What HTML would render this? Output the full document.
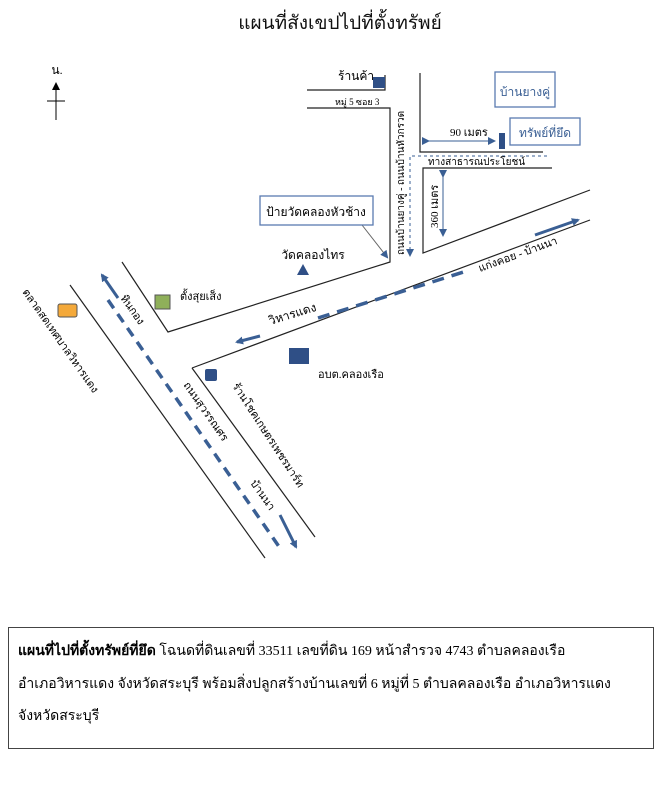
<!DOCTYPE html>
<html><head><meta charset="utf-8"><style>
html,body{margin:0;padding:0;background:#fff;}
svg{display:block;font-family:"Liberation Serif","DejaVu Serif",serif;}
</style></head><body>
<svg width="667" height="800" viewBox="0 0 667 800" xmlns="http://www.w3.org/2000/svg">
<defs>
<marker id="ab" markerWidth="8" markerHeight="8" refX="6" refY="4" orient="auto" markerUnits="userSpaceOnUse"><path d="M0,0 L8,4 L0,8 z" fill="#3a5f94"/></marker>
<marker id="ak" markerWidth="8" markerHeight="8" refX="6" refY="4" orient="auto" markerUnits="userSpaceOnUse"><path d="M0,0 L8,4 L0,8 z" fill="#000"/></marker>
</defs>
<text x="340" y="29" font-size="19" text-anchor="middle" fill="#111">แผนที่สังเขปไปที่ตั้งทรัพย์</text>
<!-- north -->
<text x="57" y="74" font-size="12" text-anchor="middle">น.</text>
<line x1="56" y1="120" x2="56" y2="84" stroke="#000" stroke-width="1" marker-end="url(#ak)"/>
<line x1="47" y1="101" x2="65" y2="101" stroke="#000"/>
<g stroke="#222" stroke-width="1.2" fill="none">
<polyline points="307,90 385,90 385,75"/>
<polyline points="307,108 390,108 390,262 168,332 122,262"/>
<polyline points="420,73 420,152 543,152"/>
<polyline points="552,168 423,168 423,253 590,190"/>
<line x1="192" y1="368" x2="590" y2="220"/>
<line x1="192" y1="368" x2="315" y2="537"/>
<line x1="70" y1="285" x2="265" y2="558"/>
</g>
<!-- dashed guide -->
<polyline points="547,156 410,156 410,255" stroke="#3a5f94" stroke-width="1" stroke-dasharray="3,3" fill="none" marker-end="url(#ab)"/>
<!-- thick dashes -->
<line x1="108" y1="300" x2="280" y2="548" stroke="#3a5f94" stroke-width="3.5" stroke-dasharray="10,7"/>
<line x1="118" y1="298" x2="102" y2="275" stroke="#3a5f94" stroke-width="3" marker-end="url(#ab)"/>
<line x1="280" y1="515" x2="296" y2="547" stroke="#3a5f94" stroke-width="3" marker-end="url(#ab)"/>
<line x1="260" y1="336" x2="237" y2="342" stroke="#3a5f94" stroke-width="3" marker-end="url(#ab)"/>
<line x1="318" y1="318" x2="470" y2="270" stroke="#3a5f94" stroke-width="3.5" stroke-dasharray="12,8"/>
<line x1="535" y1="235" x2="578" y2="220" stroke="#3a5f94" stroke-width="3" marker-end="url(#ab)"/>
<!-- arrows measure -->
<line x1="428" y1="141" x2="494" y2="141" stroke="#3a5f94" marker-end="url(#ab)" marker-start="url(#ab)"/>
<line x1="443" y1="176" x2="443" y2="235" stroke="#3a5f94" marker-end="url(#ab)" marker-start="url(#ab)"/>
<line x1="362" y1="225" x2="387" y2="257" stroke="#666" marker-end="url(#ab)"/>
<!-- boxes -->
<g fill="none" stroke="#5a7bb0" stroke-width="1.3">
<rect x="495" y="72" width="60" height="35"/>
<rect x="510" y="118" width="70" height="27"/>
<rect x="260" y="196" width="113" height="29"/>
</g>
<text x="525" y="96" font-size="12" fill="#3a5f94" text-anchor="middle">บ้านยางคู่</text>
<text x="545" y="137" font-size="12" fill="#3a5f94" text-anchor="middle">ทรัพย์ที่ยึด</text>
<text x="316" y="216" font-size="12" text-anchor="middle">ป้ายวัดคลองหัวช้าง</text>
<!-- markers -->
<rect x="373" y="77" width="12" height="11" fill="#2f4f86"/>
<rect x="499" y="133" width="6" height="16" fill="#2f4f86"/>
<path d="M297,275 L303,264 L309,275 z" fill="#2f4f86"/>
<rect x="155" y="295" width="15" height="14" fill="#8fb05a" stroke="#555"/>
<rect x="58" y="304" width="19" height="13" rx="2" fill="#f4a93a" stroke="#555"/>
<rect x="205" y="369" width="12" height="12" rx="2" fill="#2f4f86"/>
<rect x="289" y="348" width="20" height="16" fill="#2f4f86"/>
<!-- labels -->
<text x="338" y="80" font-size="12">ร้านค้า</text>
<text x="335" y="105" font-size="9">หมู่ 5 ซอย 3</text>
<text x="450" y="136" font-size="11">90 เมตร</text>
<text x="428" y="165" font-size="10">ทางสาธารณประโยชน์</text>
<text x="313" y="259" font-size="12" text-anchor="middle">วัดคลองไทร</text>
<text x="180" y="300" font-size="11">ตั้งสุยเส็ง</text>
<text x="318" y="378" font-size="11">อบต.คลองเรือ</text>
<text transform="translate(404,255) rotate(-90)" font-size="10">ถนนบ้านยางคู่ - ถนนบ้านหัวกรวด</text>
<text transform="translate(438,228) rotate(-90)" font-size="11">360 เมตร</text>
<text transform="translate(270,325) rotate(-17)" font-size="12">วิหารแดง</text>
<text transform="translate(480,272) rotate(-20)" font-size="11">แก่งคอย - บ้านนา</text>
<text transform="translate(22,292) rotate(55)" font-size="11">ตลาดสดเทศบาลวิหารแดง</text>
<text transform="translate(120,298) rotate(55)" font-size="11">หินกอง</text>
<text transform="translate(183,385) rotate(55)" font-size="11">ถนนสุวรรณศร</text>
<text transform="translate(232,386) rotate(57)" font-size="11">ร้านโชคเกษตรเพชรมาร์ท</text>
<text transform="translate(250,483) rotate(55)" font-size="11">บ้านนา</text>
<!-- bottom box -->
<rect x="8.5" y="627.5" width="645" height="121" fill="none" stroke="#444"/>
<text x="18" y="655" font-size="14"><tspan font-weight="bold">แผนที่ไปที่ตั้งทรัพย์ที่ยึด</tspan> โฉนดที่ดินเลขที่ 33511 เลขที่ดิน 169 หน้าสำรวจ 4743 ตำบลคลองเรือ</text>
<text x="18" y="688" font-size="14">อำเภอวิหารแดง จังหวัดสระบุรี พร้อมสิ่งปลูกสร้างบ้านเลขที่ 6 หมู่ที่ 5 ตำบลคลองเรือ อำเภอวิหารแดง</text>
<text x="18" y="720" font-size="14">จังหวัดสระบุรี</text>
</svg>
</body></html>
